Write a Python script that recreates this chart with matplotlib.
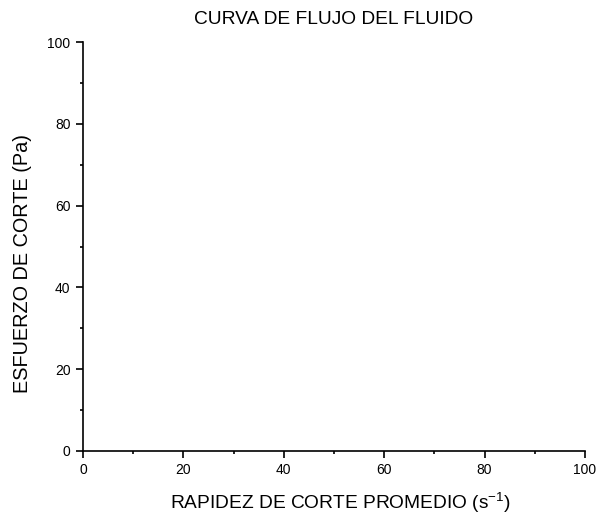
import matplotlib
matplotlib.use("Agg")
import matplotlib.pyplot as plt
from matplotlib.ticker import MultipleLocator

plt.rcParams['font.family'] = ['Liberation Sans', 'DejaVu Sans']
plt.rcParams['mathtext.fontset'] = 'custom'
plt.rcParams['mathtext.rm'] = 'Liberation Sans'
plt.rcParams['mathtext.it'] = 'Liberation Sans'
plt.rcParams['mathtext.bf'] = 'Liberation Sans:bold'

# Data (chart is empty: no series drawn)
shear_rate = []
shear_stress = []
x_ticks = [0, 20, 40, 60, 80, 100]
y_ticks = [0, 20, 40, 60, 80, 100]
title = "CURVA DE FLUJO DEL FLUIDO"
xlabel = "RAPIDEZ DE CORTE PROMEDIO (s$^{-1}$)"
ylabel = "ESFUERZO DE CORTE (Pa)"

W, H = 601, 519
fig = plt.figure(figsize=(W / 100, H / 100), dpi=100)
ax = fig.add_axes([83 / W, 1 - 451 / H, (585 - 83) / W, (451 - 42) / H])
ax.plot(shear_rate, shear_stress, color='black')
ax.set_xlim(0, 100)
ax.set_ylim(0, 100)
ax.set_xticks(x_ticks)
ax.set_yticks(y_ticks)
ax.xaxis.set_minor_locator(MultipleLocator(10))
ax.yaxis.set_minor_locator(MultipleLocator(10))
for s in ['top', 'right']:
    ax.spines[s].set_visible(False)
for s in ['left', 'bottom']:
    ax.spines[s].set_linewidth(1.2)
ax.tick_params(which='major', direction='out', length=5, width=1.2, labelsize=10, pad=4)
ax.tick_params(which='minor', direction='out', length=2.5, width=1.2)

fs = 13.8
fig.text(333.5 / W, 1 - 24 / H, title, fontsize=fs, ha='center', va='baseline')
fig.text(170 / W, 1 - 509 / H, xlabel, fontsize=fs, ha='left', va='baseline')
fig.text(28 / W, 1 - 393 / H, ylabel, fontsize=14.3, ha='left', va='baseline',
         rotation=90, rotation_mode='anchor')

fig.savefig("out.png", dpi=100)
